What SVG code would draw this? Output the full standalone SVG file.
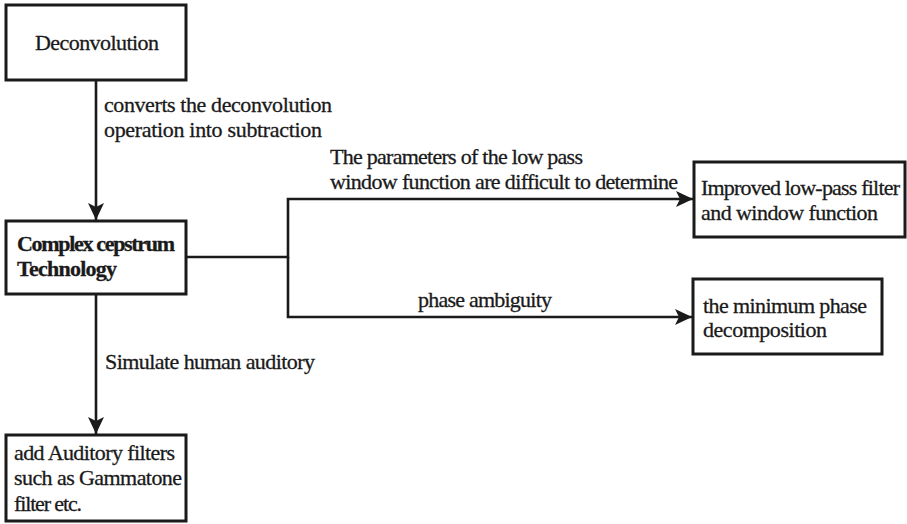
<svg xmlns="http://www.w3.org/2000/svg" width="907" height="524" viewBox="0 0 907 524">
  <style>
    .box { fill: #ffffff; stroke: #1a1a1a; stroke-width: 3; }
    .link { fill: none; stroke: #1a1a1a; stroke-width: 2.6; }
    text { font-family: "Liberation Serif", "DejaVu Serif", serif; font-size: 22px; fill: #1a1a1a; stroke: #1a1a1a; stroke-width: 0.3; }
    .bold { font-weight: bold; }
  </style>
  <defs>
    <marker id="arrow" markerUnits="userSpaceOnUse" markerWidth="18" markerHeight="16" refX="17" refY="8" orient="auto">
      <path d="M0,0 L17,8 L0,16 L4,8 Z" fill="#1a1a1a"/>
    </marker>
  </defs>

  <rect width="907" height="524" fill="#ffffff"/>

  <!-- connectors and their labels -->
  <g id="connectors">
    <path class="link" d="M96,80 V220" marker-end="url(#arrow)"/>
    <path class="link" d="M186,257 H288 V199 H693" marker-end="url(#arrow)"/>
    <path class="link" d="M288,257 V317 H692" marker-end="url(#arrow)"/>
    <path class="link" d="M96,294 V434" marker-end="url(#arrow)"/>
    <text x="104" y="112" textLength="228">converts the deconvolution</text>
    <text x="104" y="137" textLength="218">operation into subtraction</text>
    <text x="330" y="164" textLength="253">The parameters of the low pass</text>
    <text x="330" y="189" textLength="348">window function are difficult to determine</text>
    <text x="418" y="307" textLength="134">phase ambiguity</text>
    <text x="105" y="369" textLength="210">Simulate human auditory</text>
  </g>

  <!-- nodes -->
  <g id="deconvolution">
    <rect class="box" x="6" y="5" width="180" height="75"/>
    <text x="35" y="50" textLength="124">Deconvolution</text>
  </g>

  <g id="complex-cepstrum">
    <rect class="box" x="6" y="221" width="180" height="73"/>
    <text class="bold" x="17" y="251" textLength="158">Complex cepstrum</text>
    <text class="bold" x="17" y="276" textLength="100">Technology</text>
  </g>

  <g id="improved-filter">
    <rect class="box" x="694" y="162" width="211" height="75"/>
    <text x="701" y="195" textLength="199">Improved low-pass filter</text>
    <text x="701" y="220" textLength="177">and window function</text>
  </g>

  <g id="minimum-phase">
    <rect class="box" x="693" y="279" width="189" height="75"/>
    <text x="703" y="313" textLength="164">the minimum phase</text>
    <text x="703" y="337" textLength="124">decomposition</text>
  </g>

  <g id="auditory-filters">
    <rect class="box" x="6" y="435" width="180" height="86"/>
    <text x="14" y="460" textLength="161">add Auditory filters</text>
    <text x="14" y="485" textLength="168">such as Gammatone</text>
    <text x="14" y="511" textLength="68">filter etc.</text>
  </g>
</svg>
